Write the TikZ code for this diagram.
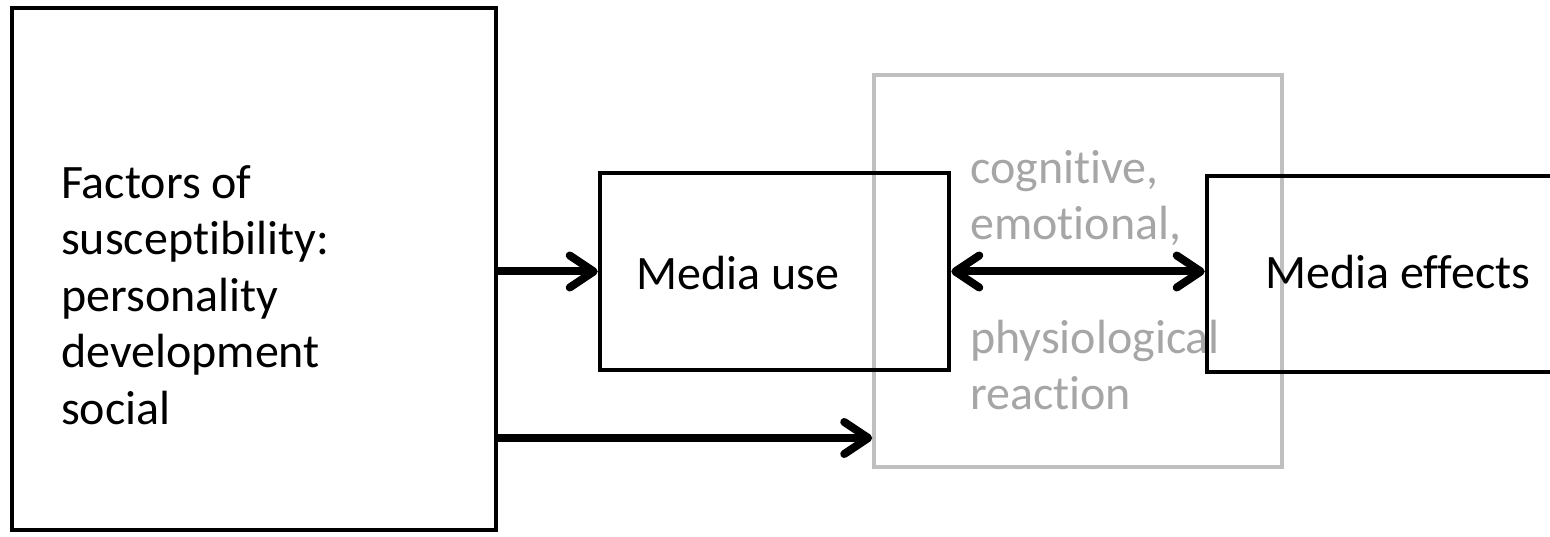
\documentclass[tikz,border=0pt]{standalone}
\usepackage{fontspec}
\setmainfont{Carlito}[Ligatures={NoCommon}]
\usetikzlibrary{arrows.meta,calc}
\definecolor{boxgray}{HTML}{BFBFBF}
\definecolor{textgray}{HTML}{A6A6A6}
\begin{document}
\begin{tikzpicture}[x=1pt,y=-1pt,
  blackbox/.style={draw=black, line width=4.5pt, inner sep=0pt, rectangle},
  graybox/.style={draw=boxgray, line width=3.5pt, inner sep=0pt, rectangle},
  lbl/.style={inner sep=0pt, font=\fontsize{48}{56.5}\selectfont, align=left},
  conn/.style={line width=8pt, -{Straight Barb[length=24pt, width=32pt, round]}},
  dconn/.style={line width=8pt, {Straight Barb[length=24pt, width=32pt, round]}-{Straight Barb[length=24pt, width=32pt, round]}}]
\useasboundingbox (0,0) rectangle (1550,537);
\clip (0,0) rectangle (1550,537);
\fill[white] (0,0) rectangle (1550,537);
% gray reaction box
\node[graybox, minimum width=408pt, minimum height=392pt] (gr) at (1078,271) {};
\node[lbl, text=textgray, anchor=north west] (rt) at (970,150) {cognitive,\\emotional,\\[57pt]physiological\\reaction};
% black boxes
\node[blackbox, minimum width=484pt, minimum height=522pt] (fac) at (254,269) {};
\node[blackbox, minimum width=349pt, minimum height=197pt] (mu) at (774.5,271.5) {};
\node[blackbox, minimum width=413pt, minimum height=196pt] (me) at (1413.5,274) {};
% texts
\node[lbl, anchor=north west] (factxt) at (61,165) {Factors of\\susceptibility:\\personality\\development\\social};
\node[lbl, anchor=base west] (mutxt) at (636,290) {Media use};
\node[lbl, anchor=base west] (metxt) at (1265,289) {Media effects};
% connectors
\draw[conn] (mu.west -| fac.east) -- (mu.west);
\draw[conn] (fac.east |- 0,438) -- (gr.west |- 0,438);
\draw[dconn] (mu.east) -- (mu.east -| me.west);
\end{tikzpicture}
\end{document}
